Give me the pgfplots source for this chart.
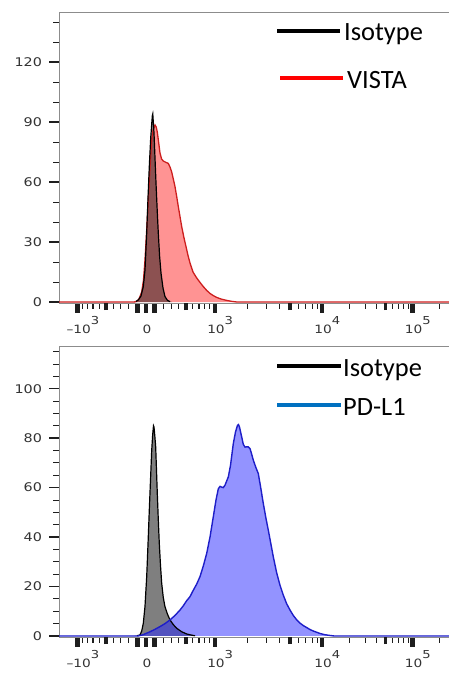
\documentclass[border=0pt]{standalone}
\usepackage{pgfplots}
\pgfplotsset{compat=1.18}
\usepackage{fontspec}
\setmainfont{DejaVu Sans}
\newfontfamily\tickfont[FakeStretch=1.2]{DejaVu Sans}
\newfontfamily\legfont{Carlito}
\definecolor{vistaline}{RGB}{205,30,30}
\definecolor{vistafill}{RGB}{255,40,40}
\definecolor{pdline}{RGB}{30,30,200}
\definecolor{pdfill}{RGB}{40,40,255}
\definecolor{pdleg}{RGB}{0,112,192}
\definecolor{tickc}{RGB}{30,30,30}
\newcommand{\yticklab}{\tickfont\fontsize{12}{13}\selectfont\color{black!80}}
\newcommand{\xticklab}{\tickfont\fontsize{11.5}{13}\selectfont\color{black!80}}
\newcommand{\legtext}{\legfont\fontsize{26.5}{30}\selectfont}
% x tick label: base text centred, superscript hanging to the right
\newcommand{\xl}[2]{\raisebox{0pt}[17bp][0pt]{#1\makebox[0pt][l]{\raisebox{8.5bp}{\fontsize{11}{11}\selectfont #2}}}}
\pgfplotsset{
  flowaxis/.style={
    scale only axis,
    width=392bp,
    height=291bp,
    xmin=59, xmax=451,
    ymin=-0.5,
    axis line style={draw=black!45, line width=0.8bp},
    tick align=outside,
    tick pos=left,
    major tick length=9.5bp,
    minor tick length=5.5bp,
    every tick/.style={tickc},
    every major x tick/.append style={line width=4.5bp},
    every minor x tick/.append style={line width=1.1bp},
    every major y tick/.append style={line width=1.4bp},
    every minor y tick/.append style={line width=0.9bp},
    xtick={77.7,137.4,146,154.6,215,322,412.5},
    xticklabels={{\xl{–10}{3}},{},{\xl{0}{}},{},{\xl{10}{3}},{\xl{10}{4}},{\xl{10}{5}}},
    minor xtick={82.4,87.4,93,99.3,113.2,120.9,128.9,163.1,171.1,178.8,192.7,199,204.6,209.6,247.4,266.3,279.7,298.7,305.8,312.1,317.6,349.2,365.2,376.5,392.4,398.5,403.7,408.4,439.7},
    extra x ticks={106,186,290.1,385.3},
    extra x tick labels={},
    extra x tick style={major tick length=7bp, every major x tick/.append style={line width=3.5bp}},
    xticklabel style={font=\xticklab, xshift=1bp},
    yticklabel style={font=\yticklab, xshift=-4bp, /pgf/number format/assume math mode=true},
  }
}
\begin{document}
\begin{tikzpicture}
\useasboundingbox (0,0) rectangle (449bp,-675bp);
% ---------- Panel 1: VISTA ----------
\begin{axis}[flowaxis, at={(59bp,-303bp)}, anchor=south west,
  ymax=145,
  ytick={0,30,60,90,120},
  minor ytick={10,20,40,50,70,80,100,110,130,140}]
\addplot[draw=none, fill=vistafill, fill opacity=0.5] coordinates {
(59,0) (134,0) (136.7,0.3) (139,1.5) (141.7,5) (143.5,11) (145,21) (146.7,36) (148.3,51) (150,67) (151.7,81) (153.3,86.5) (155,88.5) (156.2,87.5) (157.3,85) (158.6,80) (160,74.5) (161.6,71.5) (163.3,70.5) (166,69.8) (168.3,69.3) (170,67.5) (171.7,65) (173.3,61.5) (175,57.7) (176.7,52.7) (178.3,47.7) (180,42.7) (181.7,37.7) (183.8,32.5) (186,27.7) (188,23.3) (190,19.5) (193,15) (196.7,12) (200,9.8) (203.3,7.7) (206.7,5.8) (210,4.3) (213.3,3.2) (216.7,2.3) (221,1.5) (226.7,0.8) (232,0.3) (237,0) (451,0)
} \closedcycle;
\addplot[draw=none, fill=black, fill opacity=0.45] coordinates {
(134,0) (138.3,1) (141,3) (143.3,7.7) (145,16) (146.7,34.5) (148,52) (149.3,67.7) (150.7,82) (152.3,93) (152.8,94) (154,84.5) (155,72) (156,59.5) (157.2,46) (158.3,34.5) (159.6,23) (161,14.5) (163,7) (165,2.7) (167.5,0.8) (172,0)
} \closedcycle;
\addplot[vistaline, line width=1.3bp] coordinates {
(59,0) (134,0) (136.7,0.3) (139,1.5) (141.7,5) (143.5,11) (145,21) (146.7,36) (148.3,51) (150,67) (151.7,81) (153.3,86.5) (155,88.5) (156.2,87.5) (157.3,85) (158.6,80) (160,74.5) (161.6,71.5) (163.3,70.5) (166,69.8) (168.3,69.3) (170,67.5) (171.7,65) (173.3,61.5) (175,57.7) (176.7,52.7) (178.3,47.7) (180,42.7) (181.7,37.7) (183.8,32.5) (186,27.7) (188,23.3) (190,19.5) (193,15) (196.7,12) (200,9.8) (203.3,7.7) (206.7,5.8) (210,4.3) (213.3,3.2) (216.7,2.3) (221,1.5) (226.7,0.8) (232,0.3) (237,0) (451,0)
};
\addplot[black, line width=1.2bp] coordinates {
(136,0.3) (138.3,1) (141,3) (143.3,7.7) (145,16) (146.7,34.5) (148,52) (149.3,67.7) (150.7,82) (152.3,93) (152.8,94) (154,84.5) (155,72) (156,59.5) (157.2,46) (158.3,34.5) (159.6,23) (161,14.5) (163,7) (165,2.7) (167.5,0.8) (170,0.2)
};
\end{axis}
% ---------- Panel 2: PD-L1 ----------
\begin{axis}[flowaxis, at={(59bp,-637.2bp)}, anchor=south west,
  ymax=117.2,
  ytick={0,20,40,60,80,100},
  minor ytick={5,10,15,25,30,35,45,50,55,65,70,75,85,90,95,105,110,115}]
\addplot[draw=none, fill=black, fill opacity=0.5] coordinates {
(134,0) (140,0.4) (141.7,2) (143.3,5.1) (145,12) (146.7,24) (148,37) (149.3,50.9) (150.5,63) (151.7,75) (152.7,81.5) (153.5,85) (154,84.5) (154.8,81) (155.7,76.4) (156.5,67) (157.3,57.6) (158.3,47) (159.3,37.4) (160.5,28.5) (161.7,21.3) (163.3,15.5) (165,11.8) (167.5,8.8) (170,6.5) (173.3,4.6) (176.7,3.1) (181.7,1.7) (186.7,0.8) (192,0.3) (197,0)
} \closedcycle;
\addplot[draw=none, fill=pdfill, fill opacity=0.5] coordinates {
(59,0) (138,0) (143,0.5) (150,1.7) (155,2.7) (160,3.8) (165,5) (170,6.5) (175,8.3) (180,10.5) (183.3,12.2) (186.7,14.3) (190,15.9) (193.3,18.5) (196.7,21) (200,24) (203.3,28.3) (206.7,33.4) (210,40) (213.3,48.2) (216,55) (218.3,59.5) (220,60.5) (221.7,60.2) (223.3,60) (225,61) (228.3,64.3) (230.5,69) (233.3,77.8) (235.5,82.5) (237.5,85.2) (238.5,85.5) (239.5,84.5) (241.7,80.5) (243.3,77.5) (245,76.4) (246.7,76.5) (248.3,76.5) (250,75.8) (251.7,73.5) (253.3,71.1) (256,68) (258.3,65.7) (260.5,60.5) (263.3,53.6) (266,47.5) (268.3,42.8) (271,37) (273.3,32) (276.7,25.5) (280,20.5) (283.3,16.5) (286.7,13) (290,10.5) (293.3,8.3) (296.7,6.5) (300,5.2) (303.3,4.2) (306.7,3.4) (310,2.6) (313.3,2) (316.7,1.5) (320,1.0) (325,0.5) (330,0.2) (334,0) (451,0)
} \closedcycle;
\addplot[black, line width=1.2bp] coordinates {
(137,0.1) (140,0.4) (141.7,2) (143.3,5.1) (145,12) (146.7,24) (148,37) (149.3,50.9) (150.5,63) (151.7,75) (152.7,81.5) (153.5,85) (154,84.5) (154.8,81) (155.7,76.4) (156.5,67) (157.3,57.6) (158.3,47) (159.3,37.4) (160.5,28.5) (161.7,21.3) (163.3,15.5) (165,11.8) (167.5,8.8) (170,6.5) (173.3,4.6) (176.7,3.1) (181.7,1.7) (186.7,0.8) (192,0.3) (195,0.1)
};
\addplot[pdline, line width=1.4bp] coordinates {
(59,0) (138,0) (143,0.5) (150,1.7) (155,2.7) (160,3.8) (165,5) (170,6.5) (175,8.3) (180,10.5) (183.3,12.2) (186.7,14.3) (190,15.9) (193.3,18.5) (196.7,21) (200,24) (203.3,28.3) (206.7,33.4) (210,40) (213.3,48.2) (216,55) (218.3,59.5) (220,60.5) (221.7,60.2) (223.3,60) (225,61) (228.3,64.3) (230.5,69) (233.3,77.8) (235.5,82.5) (237.5,85.2) (238.5,85.5) (239.5,84.5) (241.7,80.5) (243.3,77.5) (245,76.4) (246.7,76.5) (248.3,76.5) (250,75.8) (251.7,73.5) (253.3,71.1) (256,68) (258.3,65.7) (260.5,60.5) (263.3,53.6) (266,47.5) (268.3,42.8) (271,37) (273.3,32) (276.7,25.5) (280,20.5) (283.3,16.5) (286.7,13) (290,10.5) (293.3,8.3) (296.7,6.5) (300,5.2) (303.3,4.2) (306.7,3.4) (310,2.6) (313.3,2) (316.7,1.5) (320,1.0) (325,0.5) (330,0.2) (334,0) (451,0)
};
\end{axis}
% ---------- Legends ----------
\draw[line width=4bp, black] (277bp,-30.7bp) -- (340bp,-30.7bp);
\node[anchor=base west, inner sep=0pt, font=\legtext] at (344bp,-40bp) {Isotype};
\draw[line width=4bp, red] (280bp,-77.7bp) -- (342.7bp,-77.7bp);
\node[anchor=base west, inner sep=0pt, font=\legtext] at (347bp,-88.3bp) {VISTA};
\draw[line width=4bp, black] (277bp,-365.7bp) -- (341bp,-365.7bp);
\node[anchor=base west, inner sep=0pt, font=\legtext] at (343bp,-376.7bp) {Isotype};
\draw[line width=4bp, pdleg] (277bp,-405bp) -- (341bp,-405bp);
\node[anchor=base west, inner sep=0pt, font=\legtext] at (343bp,-415bp) {PD-L1};
\end{tikzpicture}
\end{document}
